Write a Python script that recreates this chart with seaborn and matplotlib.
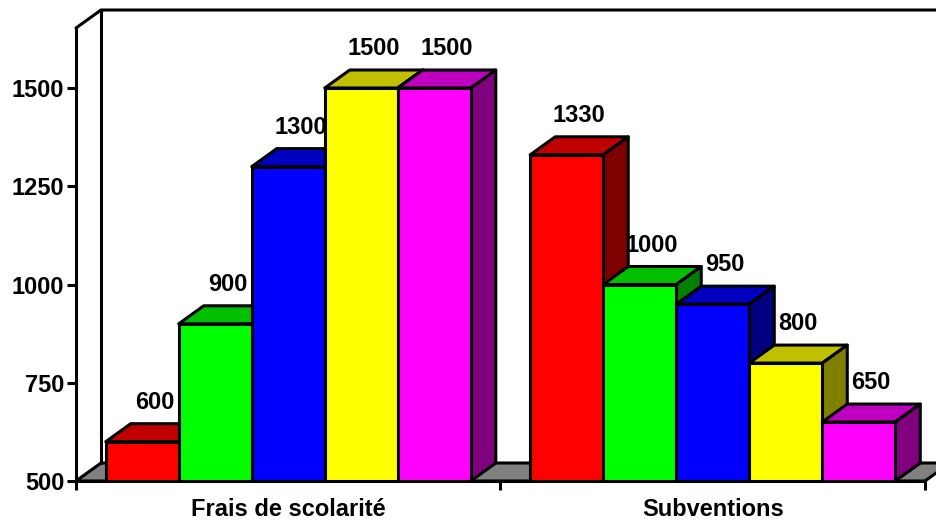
import pandas as pd
import seaborn as sns
import matplotlib.pyplot as plt
from matplotlib.patches import Polygon

groupes = ['Frais de scolarité', 'Subventions']
series = ['Série 1', 'Série 2', 'Série 3', 'Série 4', 'Série 5']
frais = [600, 900, 1300, 1500, 1500]
subventions = [1330, 1000, 950, 800, 650]
ticks_y = [500, 750, 1000, 1250, 1500]

faces = ['#FF0000', '#00FF00', '#0000FF', '#FFFF00', '#FF00FF']
dessus = ['#C00000', '#00C000', '#0000C0', '#C0C000', '#C000C0']
cotes = ['#800000', '#008000', '#000080', '#808000', '#800080']

df = pd.DataFrame({
    'groupe': [groupes[0]] * 5 + [groupes[1]] * 5,
    'serie': series * 2,
    'valeur': frais + subventions
})

sns.set_style('white')
plt.rcParams['font.family'] = ['Liberation Sans', 'DejaVu Sans']
plt.rcParams['font.weight'] = 'bold'

LW = 2.2
TAILLE = 17
fig = plt.figure(figsize=(9.37, 5.2), dpi=100)
ax = fig.add_axes([76 / 937, 39 / 520, 849 / 937, 453 / 520])

sns.barplot(data=df, x='groupe', y='valeur', hue='serie', hue_order=series,
            palette=faces, saturation=1, width=0.86, gap=0, legend=False,
            edgecolor='black', linewidth=LW, ax=ax)

ax.set_xlim(-0.5, 1.5)
ax.set_ylim(500, 500 + 453 / 0.393)
ymin = 500

# profondeur du faux 3D (25 px a droite, 18 px vers le haut)
dx = 25 / 849 * 2
dy = 18 / 0.393

# sol gris et mur du fond
ymax = ax.get_ylim()[1]
sol = Polygon([(-0.5, ymin), (-0.5 + dx, ymin + dy), (1.5 + dx, ymin + dy), (1.5, ymin)],
              facecolor='#808080', edgecolor='black', linewidth=LW, clip_on=False, zorder=1)
ax.add_patch(sol)
ax.plot([-0.5 + dx, -0.5 + dx], [ymin + dy, ymax + dy], color='black', lw=LW, clip_on=False, zorder=1)
ax.plot([-0.5, -0.5 + dx, 1.5 + dx], [ymax, ymax + dy, ymax + dy], color='black', lw=LW, clip_on=False, zorder=1)

# les barres de gauche a droite, chacune cache le cote de la precedente
barres = sorted([b for b in ax.patches if b is not sol], key=lambda b: b.get_x())
for i, b in enumerate(barres):
    x0 = b.get_x()
    x1 = x0 + b.get_width()
    h = b.get_height()
    z = 5 + i * 3
    b.set_zorder(z + 1)
    couleur = i % 5
    ax.add_patch(Polygon([(x0, h), (x0 + dx, h + dy), (x1 + dx, h + dy), (x1, h)],
                         facecolor=dessus[couleur], edgecolor='black', linewidth=LW,
                         joinstyle='round', clip_on=False, zorder=z))
    ax.add_patch(Polygon([(x1, ymin), (x1 + dx, ymin + dy), (x1 + dx, h + dy), (x1, h)],
                         facecolor=cotes[couleur], edgecolor='black', linewidth=LW,
                         joinstyle='round', clip_on=False, zorder=z))
    ax.text((x0 + x1) / 2 + dx / 2, h + 39.5 / 0.393, str(int(h)), ha='center', va='center',
            fontsize=TAILLE, fontweight='bold', color='black', zorder=z + 2)

sns.despine(ax=ax, top=True, right=True)
for cote in ['left', 'bottom']:
    ax.spines[cote].set_linewidth(LW)
    ax.spines[cote].set_color('black')
    ax.spines[cote].set_zorder(60)

ax.set_xlabel('')
ax.set_ylabel('')
ax.set_yticks(ticks_y)
ax.set_xticks([-0.5, 0.5, 1.5], minor=True)
ax.tick_params(axis='y', which='major', left=True, length=6.5, width=LW, pad=2, labelsize=TAILLE, color='black')
ax.tick_params(axis='x', which='minor', bottom=True, length=6.5, width=LW, color='black')
ax.tick_params(axis='x', which='major', bottom=False, length=0, pad=12, labelsize=TAILLE)
for t in ax.get_xticklabels() + ax.get_yticklabels():
    t.set_fontweight('bold')
    t.set_color('black')

fig.savefig('out.png', dpi=100)
